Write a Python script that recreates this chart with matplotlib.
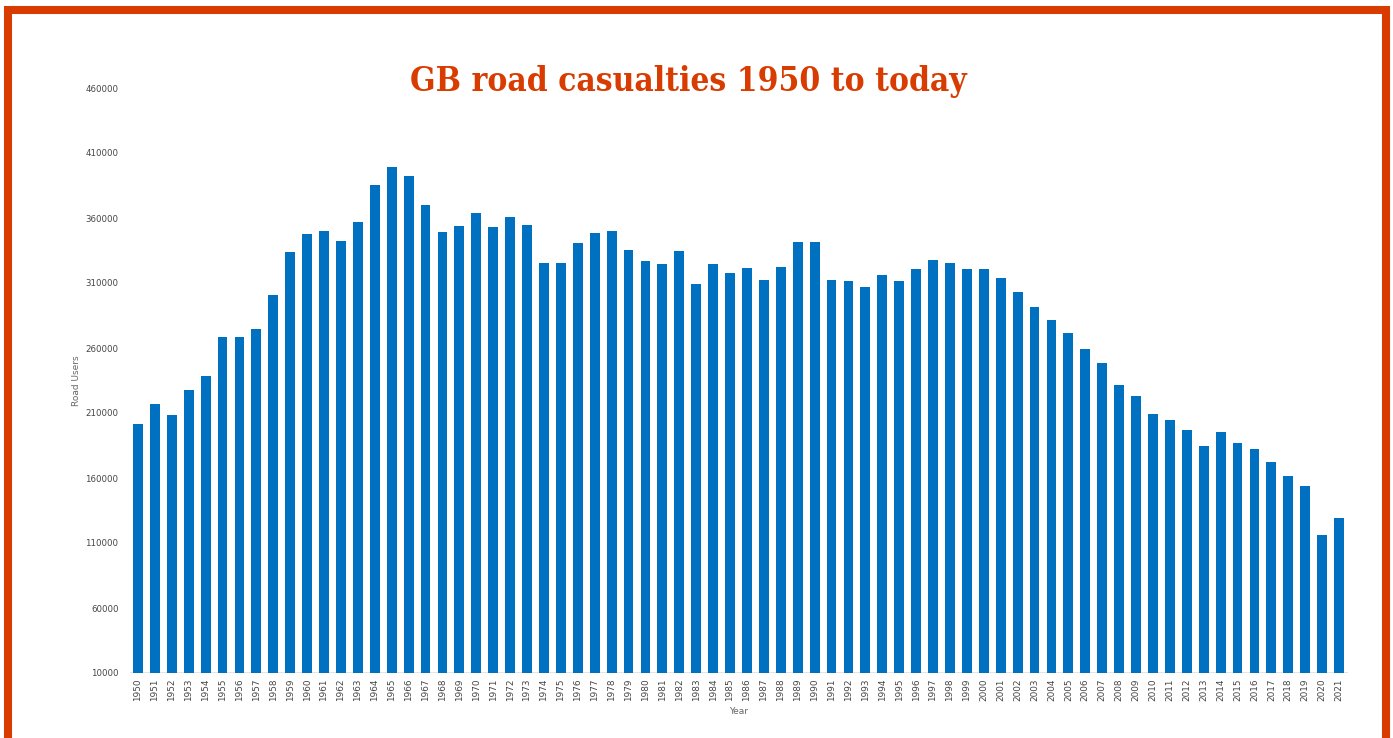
import matplotlib.pyplot as plt
from matplotlib.patches import Rectangle
import numpy as np

# data
years = list(range(1950, 2022))
casualties = [
    201500, 216900, 208500, 227700, 238500, 268500, 268500, 274600, 300800, 333800,
    347700, 350000, 342300, 356900, 385400, 399200, 392300, 370000, 349200, 353800,
    363800, 353000, 360800, 354600, 325400, 325400, 340800, 348500, 350000, 335400,
    326900, 324600, 334600, 309200, 324600, 317700, 321500, 312300, 322300, 341500,
    341500, 312300, 311500, 306900, 316200, 311500, 320800, 327700, 325400, 320800,
    320800, 313800, 303100, 291500, 281500, 271500, 259200, 248500, 231500, 223100,
    209200, 204600, 196900, 184600, 195400, 186900, 182300, 172300, 161500, 153800,
    116200, 129200,
]
yticks = list(range(10000, 460001, 50000))

orange = '#d83c00'
blue = '#0070c0'

fig = plt.figure(figsize=(13.93, 7.38), dpi=100)
ax = fig.add_axes([129.5/1393, 1-673/738, 1218/1393, 585/738])

x = np.arange(len(years))
ax.bar(x, casualties, width=0.58, color=blue, zorder=2)
ax.axhline(10000, color='#e6ddd5', lw=1.2, zorder=1)

ax.set_xlim(-0.5, len(years)-0.5)
ax.set_ylim(10000, 460000)
ax.set_yticks(yticks)
ax.set_yticklabels([str(t) for t in yticks], fontsize=6.2, color='#444444')
ax.set_xticks(x)
ax.set_xticklabels([str(y) for y in years], rotation=90, fontsize=6.4, color='#444444')
ax.tick_params(axis='both', length=0)
ax.tick_params(axis='y', pad=8)
ax.tick_params(axis='x', pad=4)
for s in ax.spines.values():
    s.set_visible(False)

ax.set_ylabel('Road Users', fontsize=6.5, color='#666666', labelpad=3)
ax.set_xlabel('Year', fontsize=6.5, color='#666666', labelpad=4)

fig.text(688/1393, 1-82/738, 'GB road casualties 1950 to today', ha='center', va='center',
         fontsize=24, fontweight='bold', fontstretch='condensed', color=orange,
         family='DejaVu Serif')

# orange frame, bottom edge runs off the picture
fig.patches.append(Rectangle((8/1393, -2/738), 1378/1393, 730/738, transform=fig.transFigure,
                             fill=False, edgecolor=orange, lw=5.8, zorder=10))

fig.savefig('out.png', dpi=100)
